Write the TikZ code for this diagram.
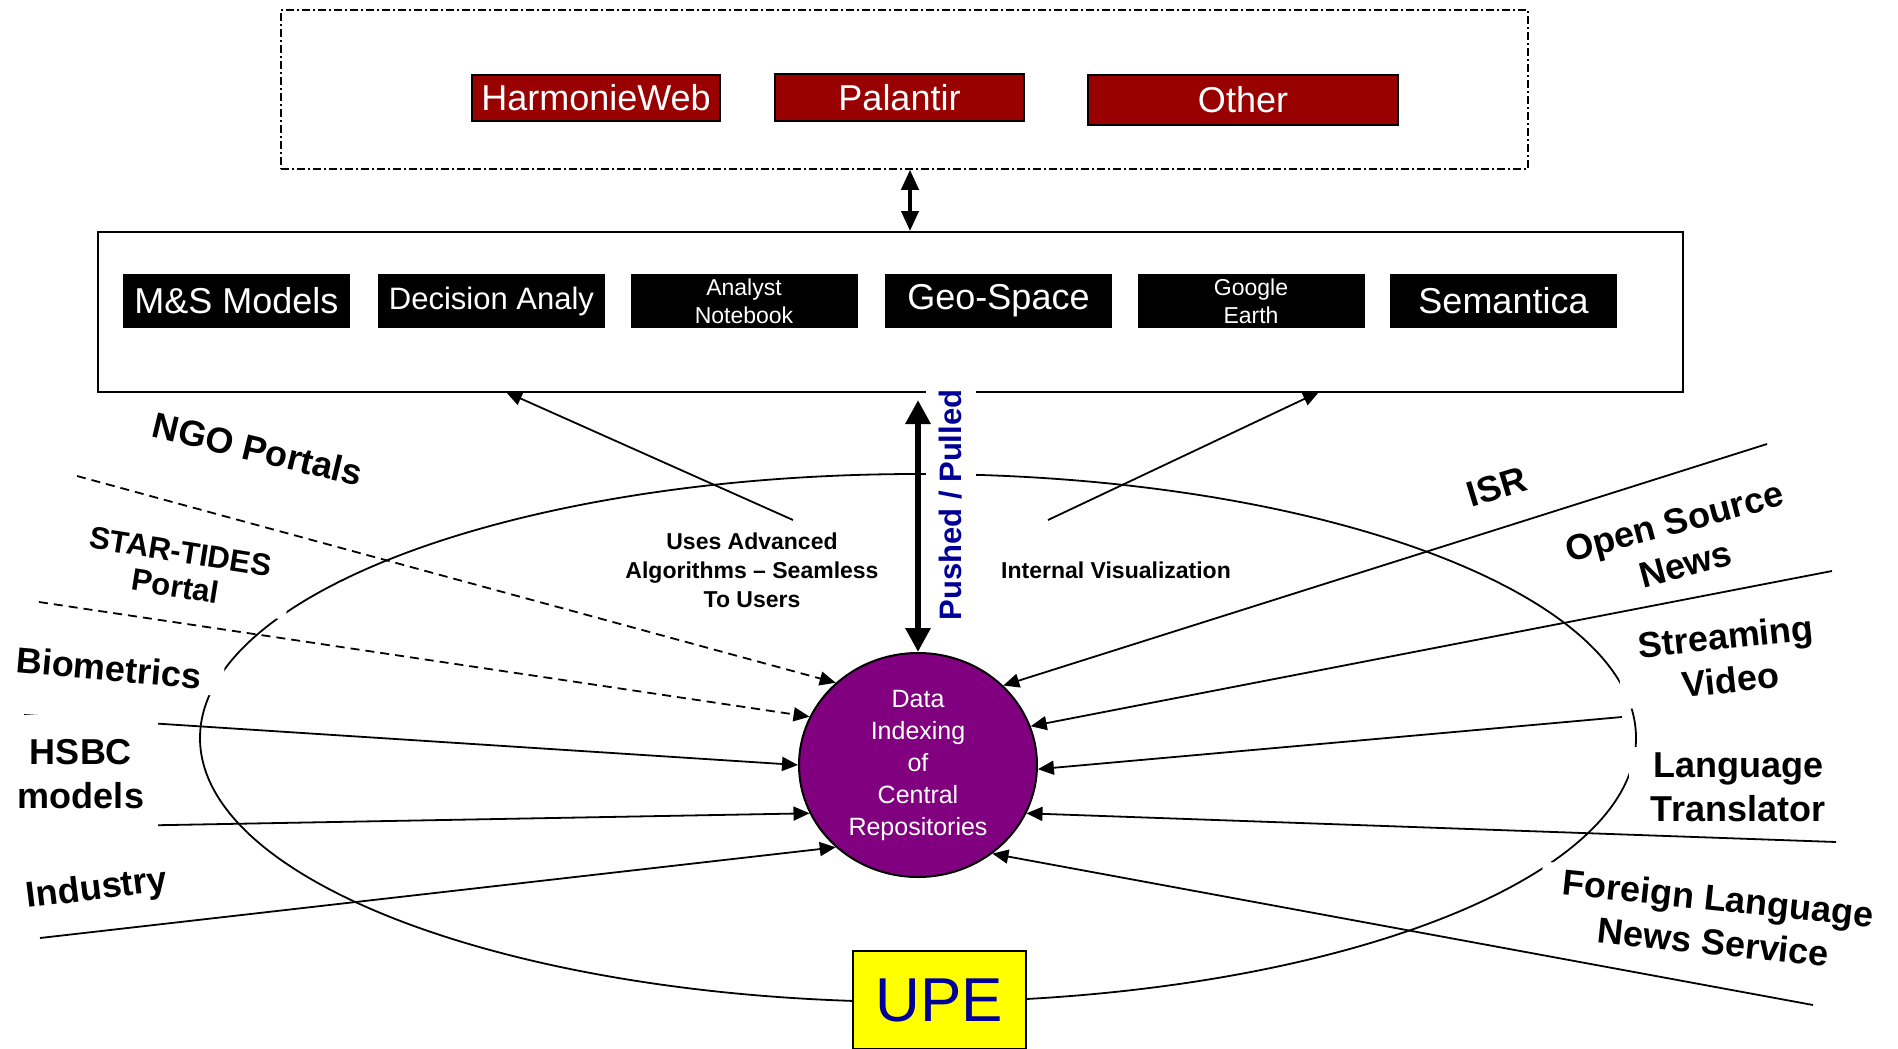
\documentclass[tikz,border=0pt]{standalone}
\usepackage{fontspec}
\setmainfont{Liberation Sans}
\usetikzlibrary{arrows.meta, shapes.geometric}
\definecolor{upec1}{RGB}{153,0,0}
\definecolor{upec2}{RGB}{128,0,128}
\definecolor{upec3}{RGB}{255,255,0}
\definecolor{upec4}{RGB}{0,0,153}

\tikzset{
	redbox/.style={draw=black, line width=2pt, fill=upec1, text=white, inner sep=0pt, font=\fontsize{36}{40}\selectfont},
	blackbox/.style={fill=black, text=white, inner sep=0pt, minimum width=227pt, minimum height=54pt, align=center},
	source/.style={fill=white, font=\bfseries\fontsize{36}{44}\selectfont, align=center, inner xsep=22pt, inner ysep=5pt},
	feed/.style={->, line width=1.8pt},
}

\begin{document}
\begin{tikzpicture}[x=1pt, y=-1pt, >={Triangle[length=16pt, width=14pt]}]
					\useasboundingbox (0,0) rectangle (1898,1049);
					\node[draw, dash pattern=on 8pt off 3pt on 2pt off 3pt, line width=1.5pt, minimum width=1247pt, minimum height=159pt] (portals) at (904.5,89.5) {};
					\node[redbox, minimum width=248pt, minimum height=46pt] (hw) at (596,98) {HarmonieWeb};
					\node[redbox, minimum width=249pt, minimum height=47pt] (pal) at (899.5,97.5) {Palantir};
					\node[redbox, minimum width=310pt, minimum height=50pt] (oth) at (1243,100) {Other};
					
					\node[draw, line width=2pt, minimum width=1585pt, minimum height=160pt] (tools) at (890.5,312) {};
					\node[blackbox, font=\fontsize{36}{40}\selectfont] (ms) at (236.5,301) {M\&S Models};
					\node[blackbox, font=\fontsize{31}{36}\selectfont] (da) at (491.5,301) {Decision Analy};
					\node[blackbox, font=\fontsize{23}{28}\selectfont] (an) at (744,301) {Analyst\\Notebook};
					\node[blackbox, font=\fontsize{36}{40}\selectfont] (geo) at (998.5,301) {Geo-Space};
					\node[blackbox, font=\fontsize{23}{28}\selectfont] (ge) at (1251,301) {Google\\Earth};
					\node[blackbox, font=\fontsize{36}{40}\selectfont] (sem) at (1503.5,301) {Semantica};
					
					\draw[line width=4pt, {Triangle[length=20pt,width=17pt]}-{Triangle[length=20pt,width=17pt]}] ([xshift=5.5pt]portals.south) -- ([xshift=5.5pt]portals.south |- tools.north);
					
					\node[draw, ellipse, line width=1.8pt, minimum width=1436pt, minimum height=528pt] (ring) at (918,738) {};
					\node[draw, ellipse, line width=2pt, fill=upec2, text=white, minimum width=238pt, minimum height=224pt, inner sep=0pt, align=center, font=\fontsize{25}{32}\selectfont] (dic) at (918,765) {Data\\Indexing\\of\\Central\\Repositories};
					\node[draw, line width=1.5pt, fill=upec3, text=upec4, minimum width=173pt, minimum height=98pt, font=\fontsize{62}{70}\selectfont] (upe) at (939.5,1000) {UPE};
					
					\coordinate (ngo0) at (77,476);
					\coordinate (star0) at (39,602);
					\coordinate (hsbc0) at (24,715);
					\coordinate (hsbc1) at (6,828);
					\coordinate (ind0) at (40,938);
					\coordinate (isr0) at (1767,444);
					\coordinate (osn0) at (1832,571);
					\coordinate (sv0) at (1622,717);
					\coordinate (lt0) at (1836,842);
					\coordinate (fl0) at (1813,1005);
					\coordinate (alg0) at (793,520);
					\coordinate (alg1) at (506,392);
					\coordinate (vis0) at (1048,520);
					\coordinate (vis1) at (1319,392);
					
					\draw[feed, dash pattern=on 9pt off 6pt] (ngo0) -- (dic.135);
					\draw[feed, dash pattern=on 9pt off 6pt] (star0) -- (dic.156);
					\draw[feed] (hsbc0) -- (dic.180);
					\draw[feed] (hsbc1) -- (dic.204);
					\draw[feed] (ind0) -- (dic.225);
					\draw[feed] (isr0) -- (dic.43);
					\draw[feed] (osn0) -- (dic.19);
					\draw[feed] (sv0) -- (dic.-2);
					\draw[feed] (lt0) -- (dic.-24);
					\draw[feed] (fl0) -- (dic.-50);
					\draw[feed] (alg0) -- (alg1);
					\draw[feed] (vis0) -- (vis1);
					
					\node[source, rotate=-13.5] (ngo) at (258,449) {NGO Portals};
					\node[source, rotate=-9, font=\bfseries\fontsize{31}{35}\selectfont] (star) at (178,569) {STAR-TIDES\\Portal};
					\node[source, rotate=-5] (bio) at (109,668) {Biometrics};
					\node[source, inner xsep=14pt, inner ysep=24pt] (hsbc) at (81,774) {HSBC\\models};
					\node[source, rotate=7] (ind) at (97,890) {Industry};
					\node[source, rotate=17] (isr) at (1497,487) {ISR};
					\node[source, rotate=15] (osn) at (1680,543) {Open Source\\News};
					\node[source, rotate=6] (sv) at (1728,658) {Streaming\\Video};
					\node[source] (lt) at (1738,787) {Language\\Translator};
					\node[source, rotate=-6] (fl) at (1716,920) {Foreign Language\\News Service};
					
					\node[font=\bfseries\fontsize{23}{29}\selectfont, align=center] (alg) at (752,570) {Uses Advanced\\Algorithms -- Seamless\\To Users};
					\node[font=\bfseries\fontsize{23}{29}\selectfont] (vis) at (1116,570) {Internal Visualization};
					
					\node[fill=white, rotate=90, text=upec4, font=\bfseries\fontsize{31}{36}\selectfont, inner xsep=2pt, inner ysep=13pt] (push) at (951,505) {Pushed / Pulled};
					\draw[line width=6.5pt, {Triangle[length=24pt,width=24pt]}-{Triangle[length=24pt,width=24pt]}, shorten <=7pt] (dic.north |- tools.south) -- (dic.north);
\end{tikzpicture}
\end{document}
